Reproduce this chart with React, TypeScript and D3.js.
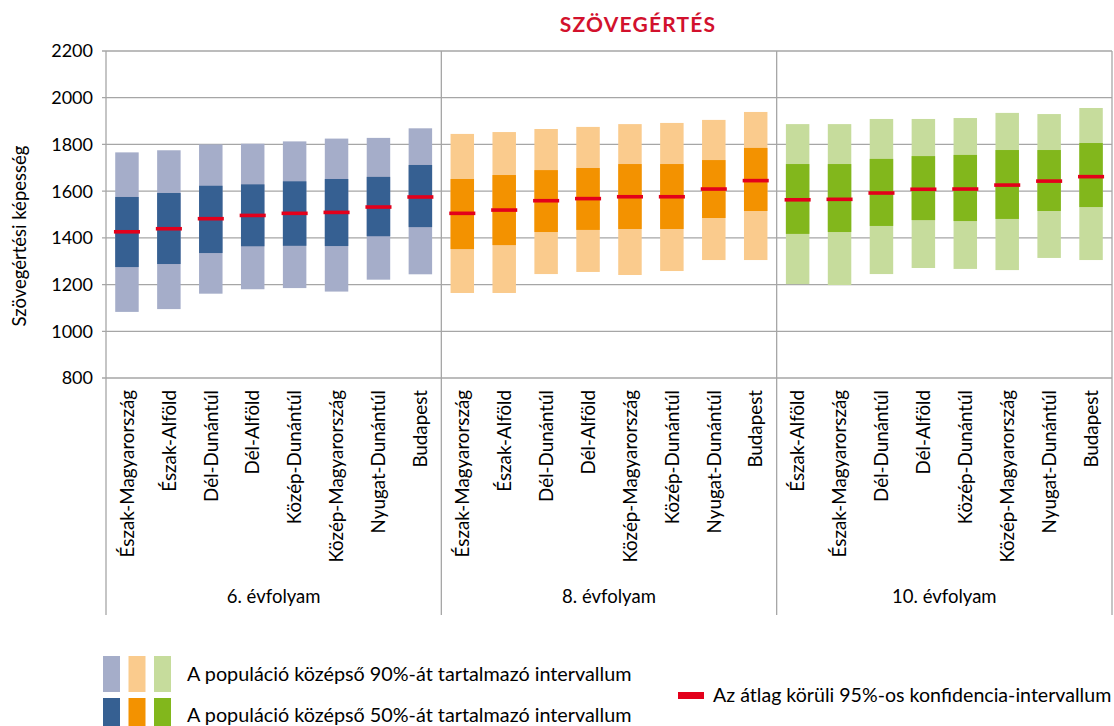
import * as d3 from 'd3'

// grades and regions (order differs per grade)
const grades = ['6. évfolyam', '8. évfolyam', '10. évfolyam']
const regions6 = ['Észak-Magyarország', 'Észak-Alföld', 'Dél-Dunántúl', 'Dél-Alföld', 'Közép-Dunántúl', 'Közép-Magyarország', 'Nyugat-Dunántúl', 'Budapest']
const regions8 = ['Észak-Magyarország', 'Észak-Alföld', 'Dél-Dunántúl', 'Dél-Alföld', 'Közép-Magyarország', 'Közép-Dunántúl', 'Nyugat-Dunántúl', 'Budapest']
const regions10 = ['Észak-Alföld', 'Észak-Magyarország', 'Dél-Dunántúl', 'Dél-Alföld', 'Közép-Dunántúl', 'Közép-Magyarország', 'Nyugat-Dunántúl', 'Budapest']

// 6. évfolyam
const g6Low90 = [1083, 1095, 1161, 1180, 1185, 1170, 1221, 1244]
const g6Low50 = [1275, 1288, 1335, 1364, 1366, 1365, 1407, 1446]
const g6Mean = [1426, 1439, 1482, 1496, 1505, 1509, 1532, 1575]
const g6High50 = [1575, 1592, 1623, 1629, 1642, 1652, 1661, 1712]
const g6High90 = [1766, 1775, 1800, 1803, 1813, 1825, 1828, 1869]

// 8. évfolyam
const g8Low90 = [1164, 1164, 1245, 1254, 1241, 1258, 1305, 1305]
const g8Low50 = [1352, 1369, 1425, 1434, 1438, 1438, 1485, 1515]
const g8Mean = [1505, 1519, 1559, 1568, 1576, 1576, 1609, 1645]
const g8High50 = [1652, 1669, 1690, 1699, 1716, 1716, 1733, 1785]
const g8High90 = [1845, 1853, 1866, 1875, 1887, 1892, 1905, 1939]

// 10. évfolyam
const g10Low90 = [1202, 1198, 1245, 1271, 1267, 1262, 1314, 1305]
const g10Low50 = [1417, 1425, 1451, 1476, 1472, 1481, 1515, 1532]
const g10Mean = [1563, 1565, 1592, 1608, 1609, 1626, 1643, 1662]
const g10High50 = [1716, 1716, 1738, 1750, 1755, 1776, 1776, 1806]
const g10High90 = [1887, 1887, 1909, 1909, 1913, 1935, 1930, 1956]

const yTicks = [800, 1000, 1200, 1400, 1600, 1800, 2000, 2200]

const lightColors = ['#a5adc9', '#facb8d', '#c6dc9c']
const darkColors = ['#366092', '#f39200', '#82b71c']
const ciColor = '#e3001b'
const gridColor = '#a6a6a6'
const font = 'Lato, "Open Sans", sans-serif'

const groups = [
  { regions: regions6, low90: g6Low90, low50: g6Low50, mean: g6Mean, high50: g6High50, high90: g6High90 },
  { regions: regions8, low90: g8Low90, low50: g8Low50, mean: g8Mean, high50: g8High50, high90: g8High90 },
  { regions: regions10, low90: g10Low90, low50: g10Low50, mean: g10Mean, high50: g10High50, high90: g10High90 },
]

export default function App() {
  const width = 1114
  const height = 726
  const left = 106
  const right = 1112
  const top = 51
  const bottom = 378
  const axisBottom = 615

  const y = d3.scaleLinear().domain([800, 2200]).range([bottom, top])
  const xGroup = d3.scaleBand<string>().domain(grades).range([left, right])
  const xInner = d3.scaleBand<number>()
    .domain(d3.range(8))
    .range([0, xGroup.bandwidth()])
    .paddingInner(0.44)
    .paddingOuter(0.22)
  const bw = xInner.bandwidth()

  return (
    <svg width={width} height={height} style={{ position: 'absolute', left: 0, top: 0, background: '#fff' }}>
      {/* title */}
      <text x={638} y={32} textAnchor="middle" fontFamily={font} fontWeight={700} fontSize={21}
        letterSpacing={1.2} fill="#d2112d">
        SZÖVEGÉRTÉS
      </text>

      {/* y axis label */}
      <text transform="translate(20,236) rotate(-90)" textAnchor="middle" dy="0.35em"
        fontFamily={font} fontSize={18.5} fill="#000">
        Szövegértési képesség
      </text>

      {/* grid + ticks */}
      {yTicks.map(t => (
        <g key={t}>
          <line x1={left - 4} x2={right} y1={y(t)} y2={y(t)} stroke={gridColor} strokeWidth={1.3} />
          <text x={93} y={y(t)} dy="0.36em" textAnchor="end" fontFamily={font} fontSize={18} fill="#000">{t}</text>
        </g>
      ))}

      {/* vertical separators */}
      {[...grades.map(g => xGroup(g) as number), right].map((x, i) => (
        <line key={i} x1={x} x2={x} y1={top} y2={axisBottom} stroke={gridColor} strokeWidth={1.3} />
      ))}

      {/* bars */}
      {groups.map((g, gi) => {
        const gx = xGroup(grades[gi]) as number
        return (
          <g key={gi} transform={`translate(${gx},0)`}>
            {g.regions.map((r, i) => {
              const x = xInner(i) as number
              return (
                <g key={r}>
                  <rect x={x} width={bw} y={y(g.high90[i])} height={y(g.low90[i]) - y(g.high90[i])} fill={lightColors[gi]} />
                  <rect x={x} width={bw} y={y(g.high50[i])} height={y(g.low50[i]) - y(g.high50[i])} fill={darkColors[gi]} />
                  <rect x={x - 1.3} width={bw + 2.6} y={y(g.mean[i]) - 1.8} height={3.6} fill={ciColor} />
                  <text transform={`translate(${x + bw / 2},390) rotate(-90)`} textAnchor="end" dy="0.36em"
                    fontFamily={font} fontSize={18.8} fill="#000">{r}</text>
                </g>
              )
            })}
            <text x={xGroup.bandwidth() / 2} y={603} textAnchor="middle" fontFamily={font} fontSize={18.5} fill="#000">
              {grades[gi]}
            </text>
          </g>
        )
      })}

      {/* legend */}
      {[0, 1, 2].map(i => (
        <g key={i}>
          <rect x={103 + i * 25.5} y={656} width={17} height={36} fill={lightColors[i]} />
          <rect x={103 + i * 25.5} y={698} width={17} height={30} fill={darkColors[i]} />
        </g>
      ))}
      <text x={187} y={681} fontFamily={font} fontSize={19.8} fill="#000">A populáció középső 90%-át tartalmazó intervallum</text>
      <text x={187} y={722} fontFamily={font} fontSize={19.8} fill="#000">A populáció középső 50%-át tartalmazó intervallum</text>
      <rect x={678} y={692} width={26} height={7} fill={ciColor} />
      <text x={713} y={702} fontFamily={font} fontSize={19.6} fill="#000">Az átlag körüli 95%-os konfidencia-intervallum</text>
    </svg>
  )
}
